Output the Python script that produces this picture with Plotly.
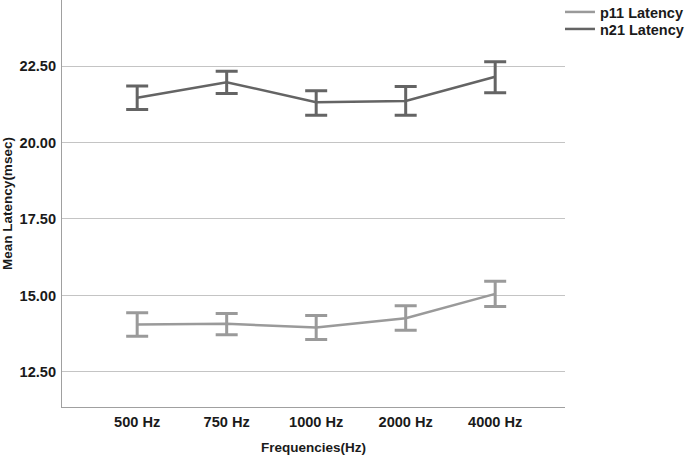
import plotly.graph_objects as go

categories = ["500 Hz", "750 Hz", "1000 Hz", "2000 Hz", "4000 Hz"]

p11_mean = [14.05, 14.07, 13.95, 14.25, 15.05]
p11_upper = [14.43, 14.41, 14.34, 14.66, 15.46]
p11_lower = [13.66, 13.71, 13.56, 13.86, 14.64]

n21_mean = [21.46, 21.97, 21.32, 21.36, 22.15]
n21_upper = [21.85, 22.33, 21.69, 21.83, 22.64]
n21_lower = [21.08, 21.60, 20.89, 20.89, 21.63]

y_ticks = [12.5, 15.0, 17.5, 20.0, 22.5]
y_tick_labels = ["12.50", "15.00", "17.50", "20.00", "22.50"]

P11_COLOR = "#9a9a9a"
N21_COLOR = "#646464"

def err(mean, upper, lower):
    return ([u - m for u, m in zip(upper, mean)], [m - l for m, l in zip(mean, lower)])

fig = go.Figure()
for name, mean, up, lo, col, lg in [
    ("p11 Latency", p11_mean, p11_upper, p11_lower, P11_COLOR, "legend"),
    ("n21 Latency", n21_mean, n21_upper, n21_lower, N21_COLOR, "legend2"),
]:
    plus, minus = err(mean, up, lo)
    fig.add_trace(go.Scatter(
        x=categories, y=mean, name=name, mode="lines", legend=lg,
        line=dict(color=col, width=2.5),
        error_y=dict(type="data", symmetric=False, array=plus, arrayminus=minus,
                     color=col, thickness=3, width=11),
    ))

font_family = "Liberation Sans, Arial, sans-serif"
legend_style = dict(xanchor="left", yanchor="top",
                    font=dict(size=14.5, weight="bold", color="#1a1a1a"),
                    bgcolor="rgba(0,0,0,0)", itemwidth=30, borderwidth=0)
fig.update_layout(
    width=685, height=455,
    margin=dict(l=62, r=120, t=0, b=48, autoexpand=False),
    paper_bgcolor="white", plot_bgcolor="white",
    font=dict(family=font_family, size=14, color="#1a1a1a", weight="bold"),
    showlegend=True,
    legend=dict(x=0.99, y=1.0098, **legend_style),
    legend2=dict(x=0.99, y=0.968, **legend_style),
    xaxis=dict(
        type="category", range=[-0.84, 4.78], automargin=False,
        showgrid=False, showline=True, linecolor="#a0a0a0", linewidth=1,
        ticks="", ticklabelstandoff=1, tickfont=dict(size=14.6),
        title=dict(text="Frequencies(Hz)", standoff=18, font=dict(size=13.5, weight="bold")),
        zeroline=False,
    ),
    yaxis=dict(
        range=[11.35, 24.66], automargin=False,
        tickvals=y_ticks, ticktext=y_tick_labels, tickfont=dict(size=14.6),
        showgrid=True, gridcolor="#c4c4c4", gridwidth=1.3,
        showline=True, linecolor="#a0a0a0", linewidth=1,
        ticks="", zeroline=False, ticklabelstandoff=2,
        title=dict(text="Mean Latency(msec)", standoff=6, font=dict(size=13.5, weight="bold")),
    ),
)

fig.write_html("out.html", config={"displayModeBar": False},
               post_script="document.body.style.margin='0';")
